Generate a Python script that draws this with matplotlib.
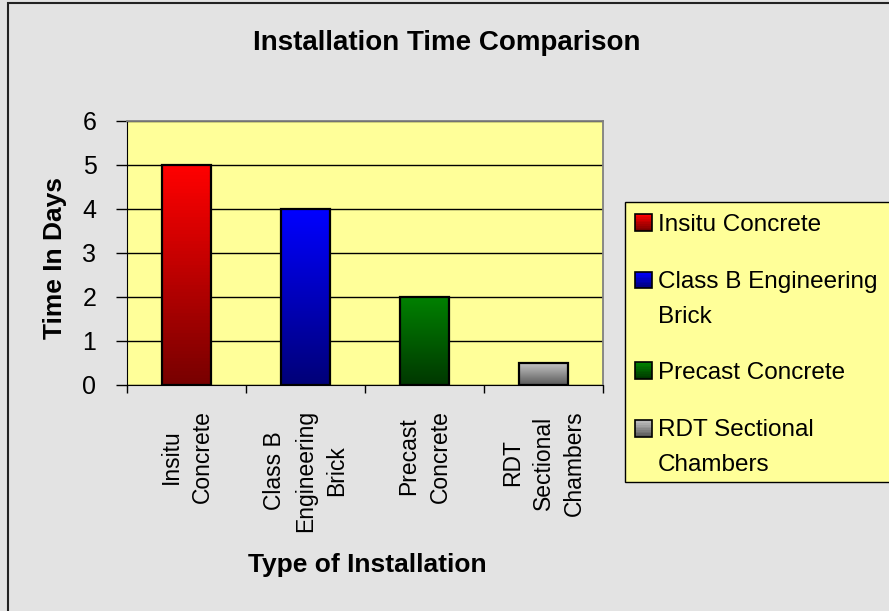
import matplotlib
matplotlib.use('Agg')
import matplotlib.pyplot as plt
import numpy as np
from matplotlib.colors import to_rgb
from matplotlib.legend_handler import HandlerBase
from matplotlib.patches import Rectangle

plt.rcParams['font.family'] = ['Liberation Sans', 'DejaVu Sans']

# data
categories = ['Insitu Concrete', 'Class B Engineering Brick', 'Precast Concrete', 'RDT Sectional Chambers']
tick_labels = ['Insitu\nConcrete', 'Class B\nEngineering\nBrick', 'Precast\nConcrete', 'RDT\nSectional\nChambers']
legend_labels = ['Insitu Concrete', 'Class B Engineering\nBrick', 'Precast Concrete', 'RDT Sectional\nChambers']
days = [5, 4, 2, 0.5]
top_colors = ['#ff0000', '#0000ff', '#008000', '#c4c4c4']
bottom_colors = ['#780000', '#000078', '#003800', '#5a5a5a']

W, H = 889, 611
LEG_FS = 17.5
LEG_LS = 1.75


def fx(px):
    return px / W


def fy(py):
    return 1 - py / H


def gradient(top, bottom, n=64):
    t = np.linspace(0, 1, n)[:, None]
    return (1 - t) * np.array(to_rgb(bottom)) + t * np.array(to_rgb(top))


class GradientHandler(HandlerBase):

    def __init__(self, top, bottom, nlines):
        self.top = top
        self.bottom = bottom
        self.nlines = nlines
        super().__init__()

    def create_artists(self, legend, orig_handle, xdescent, ydescent,
                       width, height, fontsize, trans):
        # put the swatch next to the first line of a wrapped label
        shift = (self.nlines - 1) * 0.5 * LEG_LS * 0.9 * fontsize
        n = 10
        cols = gradient(self.top, self.bottom, n)
        artists = []
        for k in range(n):
            artists.append(Rectangle((-xdescent, -ydescent + shift + height * k / n), width, height / n,
                                     facecolor=cols[k], edgecolor='none', transform=trans))
        artists.append(Rectangle((-xdescent, -ydescent + shift), width, height, fill=False,
                                 edgecolor='black', lw=1.2, transform=trans))
        return artists


fig = plt.figure(figsize=(W / 100, H / 100), dpi=100)
fig.patch.set_facecolor('#e3e3e3')

ax = fig.add_axes([fx(127), fy(385), fx(603) - fx(127), fy(121) - fy(385)])
ax.set_facecolor('#ffff99')

x = np.arange(len(categories))
bars = ax.bar(x, days, width=0.42, facecolor='none', edgecolor='black', lw=1.6, zorder=3)
for bar, top, bottom in zip(bars.patches, top_colors, bottom_colors):
    x0, y0 = bar.get_x(), bar.get_y()
    img = ax.imshow(gradient(top, bottom)[:, None, :], origin='lower', aspect='auto',
                    extent=[x0, x0 + bar.get_width(), y0, y0 + bar.get_height()], zorder=2.5)
    img.set_clip_path(bar)

ax.set_xlim(-0.5, len(categories) - 0.5)
ax.set_ylim(0, 6)
ax.set_yticks(range(7))
ax.yaxis.grid(True, color='black', lw=1)
ax.set_axisbelow(True)

ax.set_xticks(x)
ax.set_xticklabels(tick_labels, rotation=90, fontsize=16.5, linespacing=1.45)
ax.set_xticks(np.arange(len(categories) + 1) - 0.5, minor=True)
ax.tick_params(axis='x', which='major', length=0, pad=18)
ax.tick_params(axis='x', which='minor', length=6, width=1, direction='out')
ax.tick_params(axis='y', length=8, width=1, direction='out', labelsize=18, pad=14)

for side in ['top', 'right']:
    ax.spines[side].set_color('#808080')
    ax.spines[side].set_linewidth(1.3)
for side in ['left', 'bottom']:
    ax.spines[side].set_color('black')

fig.text(fx(253), fy(50), 'Installation Time Comparison', ha='left', va='baseline',
         fontsize=20, fontweight='bold')
fig.text(fx(55), fy(258), 'Time In Days', ha='center', va='center', rotation=90,
         fontsize=19, fontweight='bold')
fig.text(fx(367), fy(565), 'Type of Installation', ha='center', va='center',
         fontsize=19, fontweight='bold')

# legend box runs off the right edge like the original
fig.add_artist(Rectangle((fx(625), fy(482)), 1.0, fy(202) - fy(482), transform=fig.transFigure,
                         facecolor='#ffff99', edgecolor='black', lw=1))
handler_map = {bar: GradientHandler(t, b, lab.count('\n') + 1)
               for bar, t, b, lab in zip(bars.patches, top_colors, bottom_colors, legend_labels)}
leg = fig.legend(bars.patches, legend_labels, handler_map=handler_map, loc='upper left',
                 bbox_to_anchor=(fx(635), fy(214)), bbox_transform=fig.transFigure,
                 frameon=False, fontsize=LEG_FS, borderpad=0, borderaxespad=0,
                 handlelength=0.69, handleheight=0.69, handletextpad=0.25, labelspacing=1.43)
for t in leg.get_texts():
    t.set_linespacing(LEG_LS)

# outer chart border (cropped at right and bottom)
fig.add_artist(Rectangle((fx(8), -0.1), 1.2, fy(3) + 0.1, transform=fig.transFigure,
                         fill=False, edgecolor='#222222', lw=1.5))

fig.savefig('out.png', dpi=100, facecolor=fig.get_facecolor())
